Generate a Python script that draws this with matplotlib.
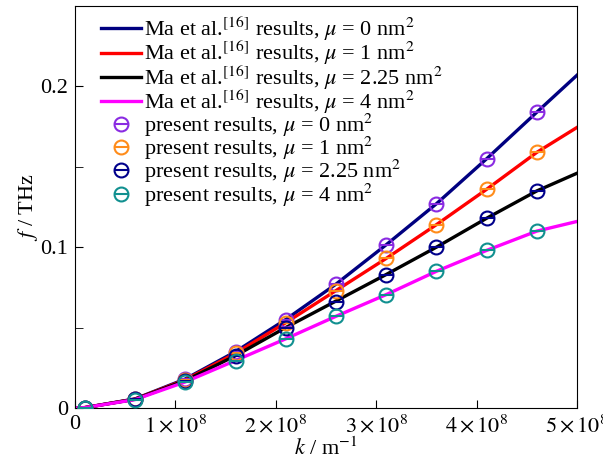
import numpy as np
import matplotlib
matplotlib.use("Agg")
import matplotlib.pyplot as plt
from matplotlib.ticker import MultipleLocator, FuncFormatter

plt.rcParams['font.family'] = ['Liberation Serif', 'DejaVu Serif']
plt.rcParams['mathtext.fontset'] = 'stix'
plt.rcParams['font.size'] = 16

# wave number k (1/m) and frequencies f (THz)
k_line = [0, 1e7, 6e7, 1.1e8, 1.6e8, 2.1e8, 2.6e8, 3.1e8, 3.6e8, 4.1e8, 4.6e8, 5e8]
ma_mu0 = [0, 0.0002, 0.0056, 0.0180, 0.0350, 0.0550, 0.0770, 0.1015, 0.1270, 0.1550, 0.1840, 0.2070]
ma_mu1 = [0, 0.0002, 0.0055, 0.0175, 0.0340, 0.0530, 0.0730, 0.0930, 0.1140, 0.1360, 0.1590, 0.1745]
ma_mu225 = [0, 0.0002, 0.0054, 0.0170, 0.0325, 0.0500, 0.0665, 0.0830, 0.1000, 0.1180, 0.1350, 0.1460]
ma_mu4 = [0, 0.0002, 0.0052, 0.0162, 0.0295, 0.0430, 0.0570, 0.0705, 0.0850, 0.0980, 0.1100, 0.1160]

k_pts = [1e7, 6e7, 1.1e8, 1.6e8, 2.1e8, 2.6e8, 3.1e8, 3.6e8, 4.1e8, 4.6e8]
pr_mu0 = [0.0002, 0.0056, 0.0180, 0.0350, 0.0550, 0.0770, 0.1015, 0.1270, 0.1550, 0.1840]
pr_mu1 = [0.0002, 0.0055, 0.0175, 0.0340, 0.0530, 0.0730, 0.0930, 0.1140, 0.1360, 0.1590]
pr_mu225 = [0.0002, 0.0054, 0.0170, 0.0325, 0.0500, 0.0660, 0.0830, 0.1000, 0.1180, 0.1350]
pr_mu4 = [0.0002, 0.0052, 0.0160, 0.0290, 0.0430, 0.0570, 0.0705, 0.0850, 0.0980, 0.1100]

mus = ["0", "1", "2.25", "4"]
line_colors = ["#000080", "#ff0000", "#000000", "#ff00ff"]
pt_colors = ["#8a2be2", "#ff8c1a", "#00008b", "#119090"]

fig = plt.figure(figsize=(6.03, 4.62), dpi=100)
ax = fig.add_axes([0.124, 0.117, 0.833, 0.870])

line_handles = []
for ys, c, mu in zip([ma_mu0, ma_mu1, ma_mu225, ma_mu4], line_colors, mus):
    h, = ax.plot(k_line, ys, color=c, lw=2.4, zorder=2,
                 label=r"Ma et al.$^{[16]}$ results, $\mu$ = %s nm$^2$" % mu)
    line_handles.append(h)

pt_handles = []
for ys, c in zip([pr_mu0, pr_mu1, pr_mu225, pr_mu4], pt_colors):
    h1, = ax.plot(k_pts, ys, ls="none", marker="o", ms=10, mfc="none",
                  mec=c, mew=1.5, zorder=3)
    h2, = ax.plot(k_pts, ys, ls="none", marker="_", ms=10, mec=c,
                  mew=1.5, zorder=3)
    pt_handles.append((h1, h2))

labels = [h.get_label() for h in line_handles]
labels += [r"present results, $\mu$ = %s nm$^2$" % mu for mu in mus]
ax.legend(line_handles + pt_handles, labels, loc="upper left",
          frameon=False, fontsize=16, handlelength=1.8, handletextpad=0.15,
          labelspacing=-0.18, borderaxespad=0.2, bbox_to_anchor=(0.025, 1.011))

ax.set_xlim(0, 5e8)
ax.set_ylim(0, 0.25)
ax.xaxis.set_major_locator(MultipleLocator(1e8))
ax.yaxis.set_major_locator(MultipleLocator(0.1))
ax.yaxis.set_minor_locator(MultipleLocator(0.05))


def kfmt(v, pos):
    n = int(round(v / 1e8))
    if n == 0:
        return "0"
    return r"$%d\times10^{8}$" % n


def ffmt(v, pos):
    if abs(v) < 1e-9:
        return "0"
    return "%.1f" % v


ax.xaxis.set_major_formatter(FuncFormatter(kfmt))
ax.yaxis.set_major_formatter(FuncFormatter(ffmt))
ax.tick_params(direction="in", which="both", top=False, right=False, labelsize=16)
ax.tick_params(which="major", length=6, pad=5)
ax.tick_params(which="minor", length=6)
for lab in ax.get_xticklabels():
    lab.set_clip_on(False)

ax.set_xlabel(r"$k$ / m$^{-1}$", fontsize=16, labelpad=0)
ax.set_ylabel(r"$f$ / THz", fontsize=16, labelpad=0)

fig.savefig("out.png", dpi=100)
